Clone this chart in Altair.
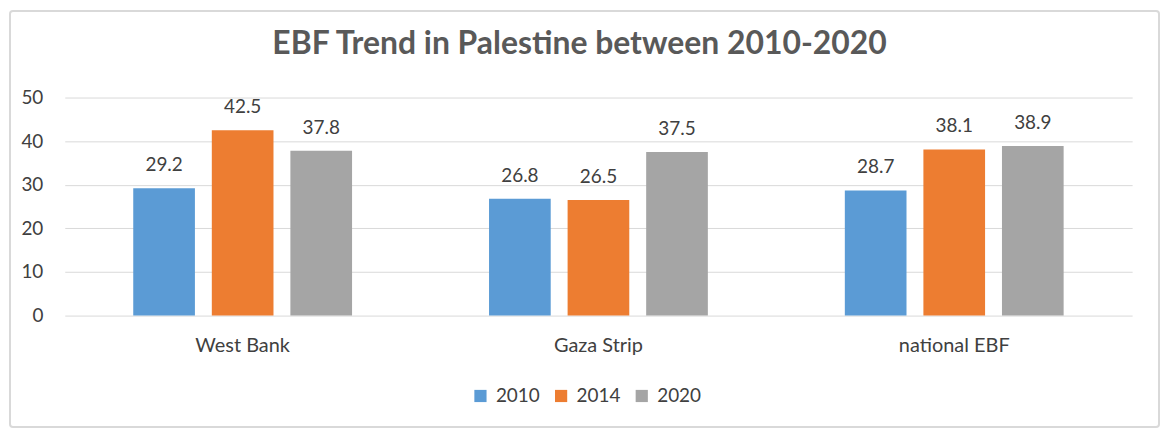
import altair as alt
import pandas as pd

regions = ["West Bank", "Gaza Strip", "national EBF"]
years = ["2010", "2014", "2020"]
v2010 = [29.2, 26.8, 28.7]
v2014 = [42.5, 26.5, 38.1]
v2020 = [37.8, 37.5, 38.9]
colors = ["#5B9BD5", "#ED7D31", "#A5A5A5"]

rows = []
for i, r in enumerate(regions):
    for yr, vals in zip(years, [v2010, v2014, v2020]):
        rows.append({"region": r, "year": yr, "value": vals[i]})
df = pd.DataFrame(rows)

FONT = "Lato"

x = alt.X("region:N", sort=regions,
          scale=alt.Scale(paddingInner=0.385, paddingOuter=0.1925),
          axis=alt.Axis(title=None, labelAngle=0, domain=False, ticks=False,
                        labelPadding=20, labelFontSize=20, labelColor="#404040",
                        labelFont=FONT, grid=False))
xo = alt.XOffset("year:N", sort=years,
                 scale=alt.Scale(paddingInner=0.215, paddingOuter=0))
y = alt.Y("value:Q", scale=alt.Scale(domain=[0, 50], nice=False),
          axis=alt.Axis(title=None, values=[0, 10, 20, 30, 40, 50], domain=False,
                        ticks=False, labelPadding=22, labelFontSize=19,
                        labelColor="#404040", gridColor="#D9D9D9", labelFont=FONT))
color = alt.Color("year:N", sort=years,
                  scale=alt.Scale(domain=years, range=colors),
                  legend=alt.Legend(title=None, orient="none", legendX=408, legendY=290,
                                    direction="horizontal", symbolType="square",
                                    symbolSize=150, symbolStrokeWidth=0,
                                    labelFontSize=19, labelColor="#404040",
                                    labelFont=FONT, columnPadding=11, labelOffset=6))

base = alt.Chart(df)
bars = base.mark_bar().encode(x=x, xOffset=xo, y=y, color=color)
text = base.mark_text(baseline="alphabetic", dy=-17, fontSize=19,
                      color="#404040", font=FONT).encode(
    x=x, xOffset=xo, y=y, text=alt.Text("value:Q", format=".1f"))

border = alt.Chart(pd.DataFrame({"a": [0]})).mark_rect(
    fill="transparent", stroke="#D9D9D9", strokeWidth=2, cornerRadius=3
).encode(x=alt.value(-55), x2=alt.value(1099), y=alt.value(-87), y2=alt.value(331))

chart = alt.layer(border, bars, text).properties(
    width=1072, height=219,
    title=alt.Title("EBF Trend in Palestine between 2010-2020", fontSize=32,
                    font=FONT, fontWeight="bold", color="#595959", offset=0,
                    baseline="alphabetic", dy=76, dx=-19),
    autosize=alt.AutoSizeParams(type="none"),
    padding={"left": 57, "top": 89, "right": 30, "bottom": 114},
).configure_view(strokeWidth=0)

chart.save("out.html", embed_options={"renderer": "svg", "actions": False})
